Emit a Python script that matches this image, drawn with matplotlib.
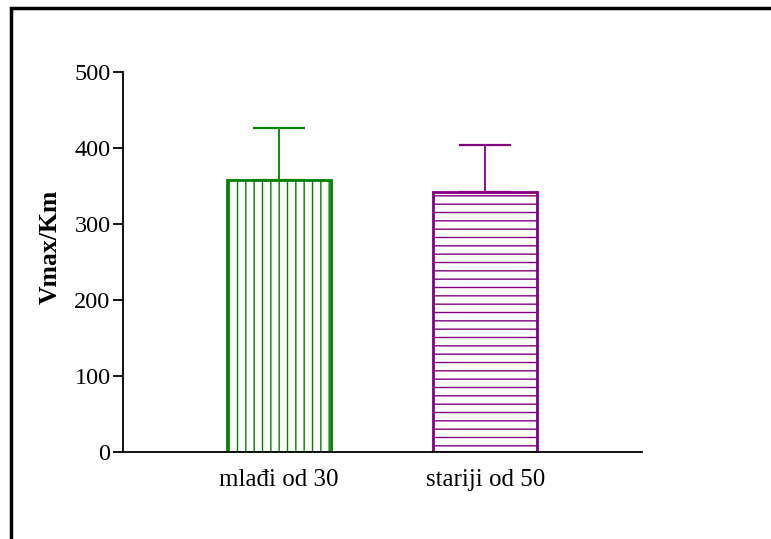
import matplotlib.pyplot as plt
from matplotlib.patches import Rectangle

# data
groups = ["mlađi od 30", "stariji od 50"]
means = [358, 342]
errors = [68, 62]
colors = ["#008000", "#800080"]
hatches = ["||", "--"]

plt.rcParams['font.family'] = ['Liberation Serif', 'DejaVu Serif']
plt.rcParams['hatch.linewidth'] = 1.0

fig = plt.figure(figsize=(7.71, 5.39), dpi=100)
ax = fig.add_axes([123 / 771, 1 - 452 / 539, (642 - 123) / 771, (452 - 72) / 539])

x = range(len(groups))
for i in x:
    ax.bar(i, means[i], width=0.504, color="white", edgecolor=colors[i],
           hatch=hatches[i], linewidth=2, zorder=2)
    ax.errorbar(i, means[i], yerr=[[0], [errors[i]]], fmt="none",
                ecolor=colors[i], elinewidth=1.3, capsize=19, capthick=1.6, zorder=1)

ax.set_xlim(-0.755, 1.758)
ax.set_ylim(0, 500)
ax.set_yticks([0, 100, 200, 300, 400, 500])
ax.set_xticks(list(x))
ax.set_xticklabels(groups)

for s in ["top", "right"]:
    ax.spines[s].set_visible(False)
for s in ["left", "bottom"]:
    ax.spines[s].set_linewidth(1.3)

ax.tick_params(axis="y", length=7, width=1.3, pad=2, labelsize=17.5)
ax.tick_params(axis="x", length=0, pad=12, labelsize=18)
ax.set_ylabel("Vmax/Km", fontsize=18.5, fontweight="bold")
ax.yaxis.set_label_coords(-0.118, 0.541)

# outer frame of the original figure
fig.add_artist(Rectangle((11 / 771, -0.1), 1.2, 1 - 8 / 539 + 0.1,
                         transform=fig.transFigure, fill=False,
                         edgecolor="black", linewidth=2.5))

fig.savefig("out.png", dpi=100)
